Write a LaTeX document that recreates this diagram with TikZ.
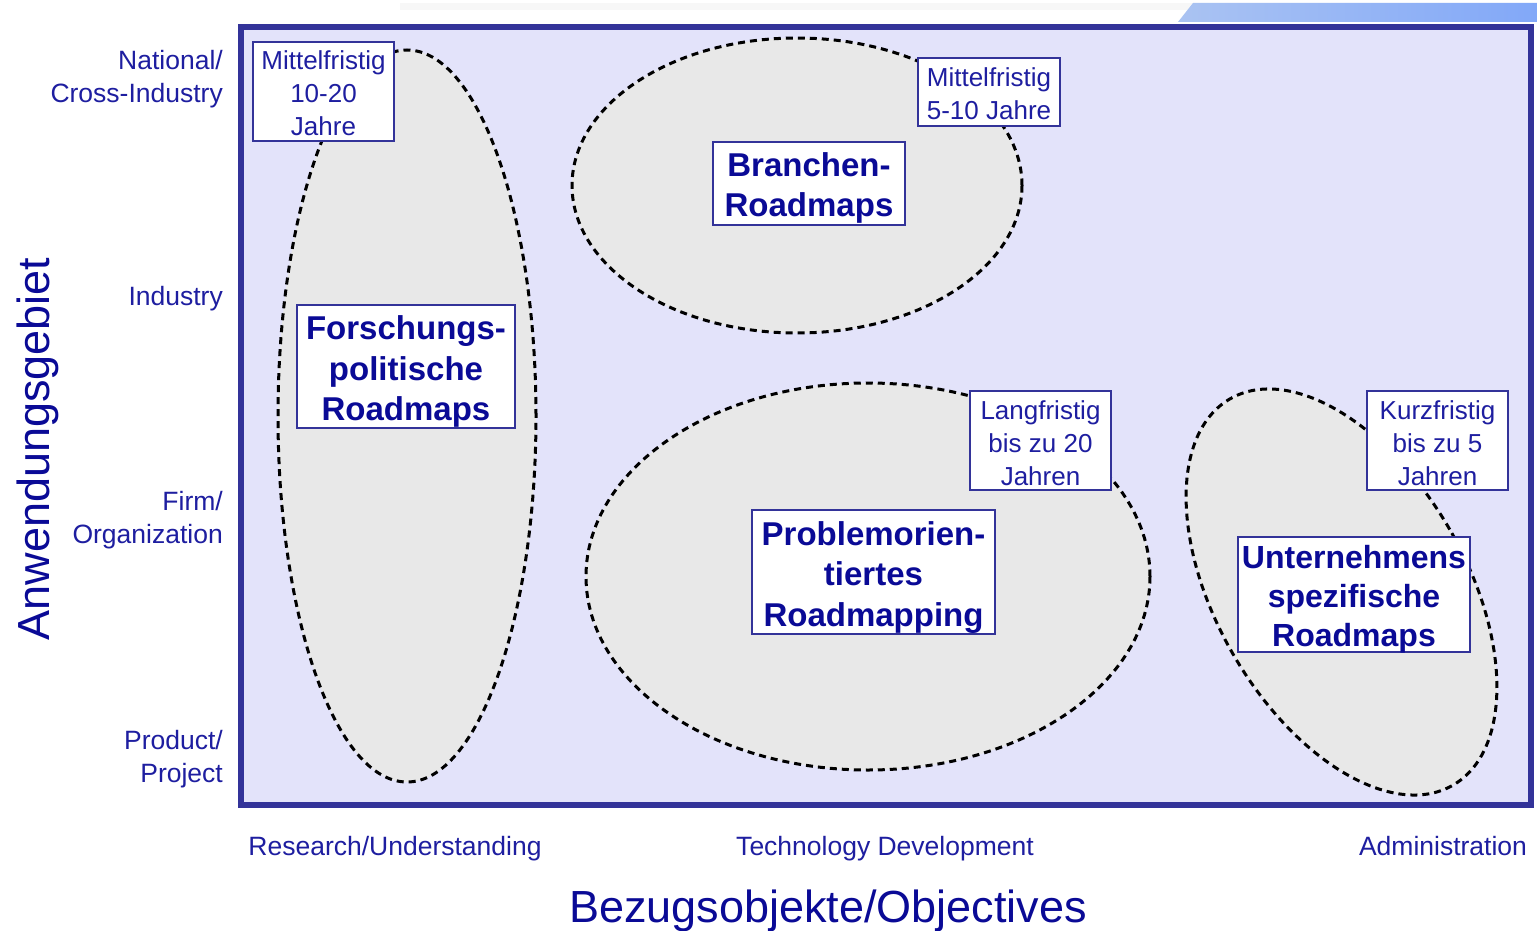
\documentclass[tikz,border=0pt]{standalone}
\usepackage{fontspec}
\setmainfont{Liberation Sans}
\definecolor{frame}{RGB}{51,51,153}
\definecolor{bgfill}{RGB}{227,227,250}
\definecolor{txt}{RGB}{30,30,160}
\definecolor{txtb}{RGB}{10,10,150}
\definecolor{blobfill}{RGB}{232,232,232}
\begin{document}
\begin{tikzpicture}[x=1pt,y=-1pt,
 blob/.style={draw=black, fill=blobfill, line width=3pt, dash pattern=on 7pt off 5pt},
 tagbox/.style={draw=frame, line width=2.5pt, fill=white, inner sep=0pt},
 tagtext/.style={text=txt, align=center, inner sep=0pt, font=\fontsize{26}{33}\selectfont},
 titletext/.style={text=txtb, align=center, inner sep=0pt, font=\bfseries\fontsize{33}{40.5}\selectfont},
 axlab/.style={text=txt, align=right, anchor=east, inner sep=0pt, font=\fontsize{26.5}{33}\selectfont},
 xlab/.style={text=txt, inner sep=0pt, font=\fontsize{26.5}{33}\selectfont},
 bigl/.style={text=txtb, inner sep=0pt, font=\fontsize{45}{50}\selectfont}]
\useasboundingbox (0,0) rectangle (1537,931);
\fill[white] (0,0) rectangle (1537,931);
% top band
\fill[black!3] (400,3) rectangle (1193,10);
\shade[left color={rgb,255:red,170;green,195;blue,242}, right color={rgb,255:red,130;green,168;blue,248}] (1193,3) -- (1537,3) -- (1537,22) -- (1178,22) -- cycle;
% frame
\draw[frame, fill=bgfill, line width=6pt] (241,27) rectangle (1531,805);
% ellipses
\draw[blob] (407,416) ellipse [x radius=129pt, y radius=366pt];
\draw[blob] (797,185.5) ellipse [x radius=225pt, y radius=147.5pt];
\draw[blob] (868,576.5) ellipse [x radius=282pt, y radius=193.5pt];
\draw[blob, rotate around={30:(1341.5,592)}] (1341.5,592) ellipse [x radius=125pt, y radius=223pt];
% tags
\node[tagbox, minimum width=141pt, minimum height=99pt] (m1) at (323.5,91.5) {};
\node[tagtext] (m1t) at (323.5,93.5) {Mittelfristig\\10-20\\Jahre};
\node[tagbox, minimum width=142pt, minimum height=68pt] (m2) at (989,92) {};
\node[tagtext] (m2t) at (989,94) {Mittelfristig\\5-10 Jahre};
\node[tagbox, minimum width=141pt, minimum height=99pt] (la) at (1040.5,440.5) {};
\node[tagtext] (lat) at (1040.5,443.5) {Langfristig\\bis zu 20\\Jahren};
\node[tagbox, minimum width=141pt, minimum height=99pt] (ku) at (1437.5,440.5) {};
\node[tagtext] (kut) at (1437.5,443.5) {Kurzfristig\\bis zu 5\\Jahren};
% titles
\node[tagbox, minimum width=192pt, minimum height=83pt] (br) at (809,183.5) {};
\node[titletext] (brt) at (809,188) {Branchen-\\Roadmaps};
\node[tagbox, minimum width=218pt, minimum height=123pt] (fo) at (406,366.5) {};
\node[titletext] (fot) at (406,371.5) {Forschungs-\\politische\\Roadmaps};
\node[tagbox, minimum width=243pt, minimum height=124pt] (pr) at (873.5,572) {};
\node[titletext] (prt) at (873.5,577.5) {Problemorien-\\tiertes\\Roadmapping};
\node[tagbox, minimum width=232pt, minimum height=115pt] (un) at (1354,594.5) {};
\node[titletext, font=\bfseries\fontsize{32}{39}\selectfont] (unt) at (1354,599.5) {Unternehmens\\spezifische\\Roadmaps};
% axis labels
\node[axlab] (y1) at (223,79.5) {National/\\Cross-Industry};
\node[axlab] (y2) at (223,299) {Industry};
\node[axlab] (y3) at (223,520.5) {Firm/\\Organization};
\node[axlab] (y4) at (223,759) {Product/\\Project};
\node[xlab] (x1) at (395,849) {Research/Understanding};
\node[xlab] (x2) at (885,849) {Technology Development};
\node[xlab] (x3) at (1443,846.5) {Administration};
\node[bigl, rotate=90] (ya) at (38,449) {Anwendungsgebiet};
\node[bigl] (xa) at (828,911) {Bezugsobjekte/Objectives};
\end{tikzpicture}
\end{document}
